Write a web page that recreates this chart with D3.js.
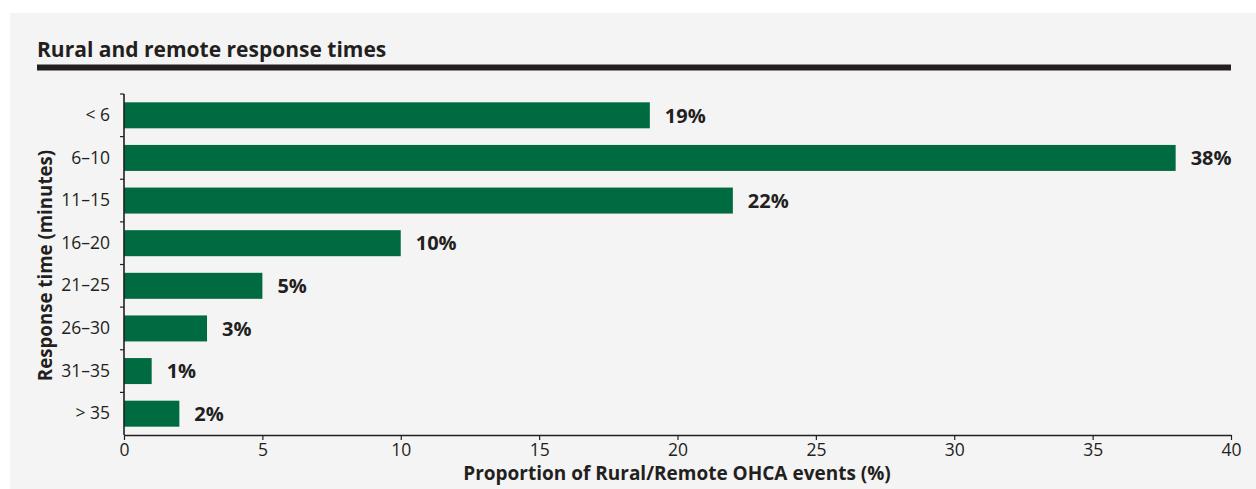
<!DOCTYPE html>
<html>
<head>
<meta charset="utf-8">
<script src="https://cdn.jsdelivr.net/npm/d3@7"></script>
<style>
  html, body { margin: 0; padding: 0; background: #ffffff; }
  svg { display: block; }
  text { font-family: "Open Sans", sans-serif; fill: #231f20; }
</style>
</head>
<body>
<svg id="chart" width="1256" height="489"></svg>
<script>
// Response-time bands (minutes) and share of rural/remote OHCA events (%)
const categories = ["< 6", "6–10", "11–15", "16–20", "21–25", "26–30", "31–35", "> 35"];
const values = [19, 38, 22, 10, 5, 3, 1, 2];
const xTicks = [0, 5, 10, 15, 20, 25, 30, 35, 40];

const title = "Rural and remote response times";
const xTitle = "Proportion of Rural/Remote OHCA events (%)";
const yTitle = "Response time (minutes)";

const svg = d3.select("#chart");
const W = 1256, H = 489;
const barColor = "#006a40";
const ink = "#231f20";

// panel background
svg.append("rect").attr("x", 10).attr("y", 13).attr("width", W - 10).attr("height", H - 13)
  .attr("fill", "#f4f4f4");

// heading and rule
svg.append("text").attr("x", 37).attr("y", 57).text(title)
  .attr("font-size", 21).attr("font-weight", 700);
svg.append("rect").attr("x", 37).attr("y", 64.5).attr("width", 1194).attr("height", 6)
  .attr("fill", ink);

const plot = { left: 124, right: 1231, top: 94, bottom: 435 };

const x = d3.scaleLinear().domain([0, 40]).range([plot.left, plot.right]);
const y = d3.scaleBand().domain(categories).range([plot.top, plot.bottom])
  .paddingInner(0.39).paddingOuter(0.195);

// bars
svg.append("g").selectAll("rect").data(values).join("rect")
  .attr("x", x(0))
  .attr("y", (d, i) => y(categories[i]))
  .attr("width", d => x(d) - x(0))
  .attr("height", y.bandwidth())
  .attr("fill", barColor);

// value labels
svg.append("g").selectAll("text").data(values).join("text")
  .attr("x", d => x(d) + 15)
  .attr("y", (d, i) => y(categories[i]) + y.bandwidth() / 2)
  .attr("dy", "0.36em")
  .attr("font-size", 20).attr("font-weight", 700)
  .text(d => d + "%");

// x axis
const xAxis = svg.append("g").attr("transform", `translate(0,${plot.bottom})`)
  .call(d3.axisBottom(x).tickValues(xTicks).tickSize(5).tickSizeOuter(0).tickPadding(4));
xAxis.select(".domain").attr("stroke", ink).attr("stroke-width", 1.6);
xAxis.selectAll(".tick line").attr("stroke", ink).attr("stroke-width", 1.2);
xAxis.selectAll(".tick text").attr("font-size", 17.5).style("font-family", null).attr("fill", ink);

// y axis: labels centred on bands, tick marks between bands
const yAxis = svg.append("g").attr("transform", `translate(${plot.left},0)`)
  .call(d3.axisLeft(y).tickSize(0).tickPadding(14));
yAxis.select(".domain").remove();
yAxis.selectAll(".tick text").attr("font-size", 17.5).style("font-family", null).attr("fill", ink);

const step = y.step();
const bounds = categories.map(c => y(c) - step * y.paddingInner() / 2);
svg.append("g").selectAll("line").data(bounds).join("line")
  .attr("x1", plot.left - 4).attr("x2", plot.left)
  .attr("y1", d => d).attr("y2", d => d)
  .attr("stroke", ink).attr("stroke-width", 1.2);
svg.append("line")
  .attr("x1", plot.left).attr("x2", plot.left)
  .attr("y1", plot.top).attr("y2", plot.bottom)
  .attr("stroke", ink).attr("stroke-width", 1.6);

// axis titles
svg.append("text").attr("x", 677).attr("y", 480)
  .attr("text-anchor", "middle").attr("font-size", 19).attr("font-weight", 700)
  .text(xTitle);
svg.append("text")
  .attr("transform", `translate(52,${(plot.top + plot.bottom) / 2 + 1}) rotate(-90)`)
  .attr("text-anchor", "middle").attr("font-size", 18.7).attr("font-weight", 700)
  .text(yTitle);
</script>
</body>
</html>
